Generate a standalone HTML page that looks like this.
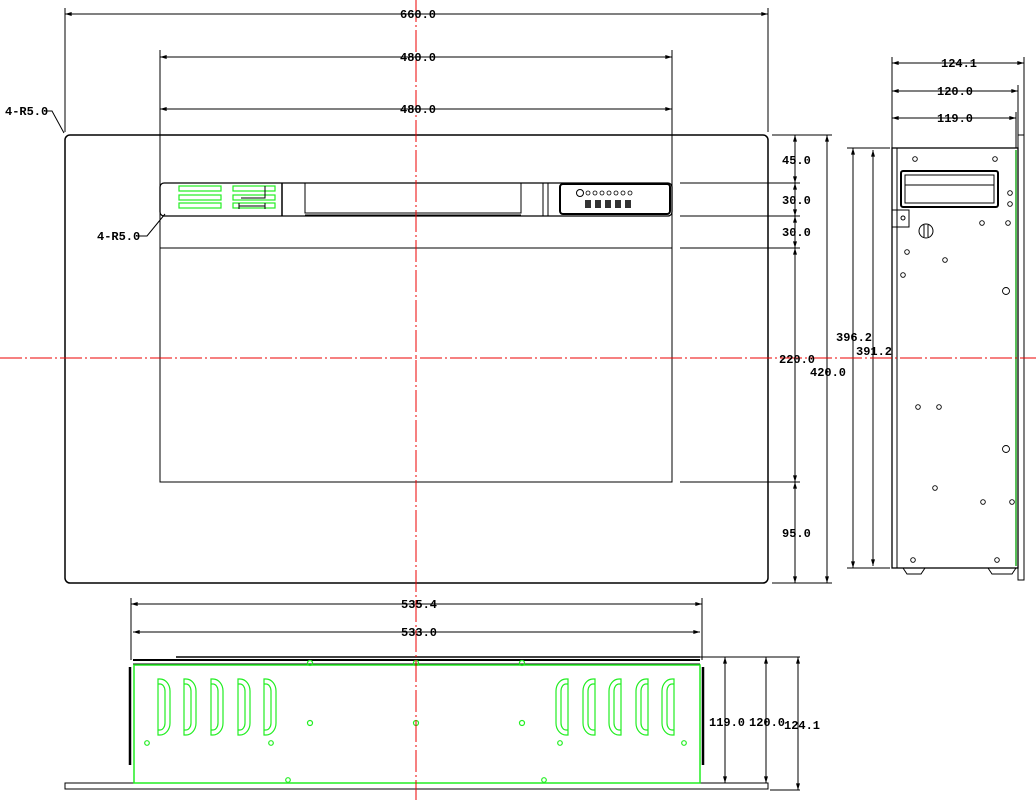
<!DOCTYPE html>
<html><head><meta charset="utf-8"><style>
html,body{margin:0;padding:0;background:#fff;width:1036px;height:800px;overflow:hidden}
svg{display:block}
text{font-family:"Liberation Mono","DejaVu Sans Mono",monospace;font-size:12px;font-weight:bold;fill:#000}
</style></head><body>
<svg width="1036" height="800" viewBox="0 0 1036 800" xmlns="http://www.w3.org/2000/svg">
<defs>
<marker id="a" viewBox="0 0 10 6" refX="10" refY="3" markerWidth="8" markerHeight="4" orient="auto-start-reverse"><path d="M0,0L10,3L0,6z" fill="#000"/></marker>
</defs>
<g stroke="#000" fill="none" stroke-width="1">
<rect x="65" y="135" width="703" height="448" rx="5" stroke-width="1.5"/>
<rect x="160" y="248" width="512" height="234" stroke="#000"/>
<rect x="160" y="183" width="512" height="33" rx="4" stroke-width="1.3"/>
<line x1="282" y1="183" x2="282" y2="216" stroke-width="1.5"/>
<rect x="305" y="183" width="216" height="30"/>
<line x1="305" y1="215" x2="521" y2="215"/>
<line x1="543" y1="183" x2="543" y2="216"/>
<line x1="548" y1="183" x2="548" y2="216"/>
<rect x="560" y="184" width="110" height="30" rx="3" stroke-width="2"/>
<circle cx="580" cy="193" r="3.5"/>
<g stroke-width="0.8"><circle cx="588" cy="193" r="2"/><circle cx="595" cy="193" r="2"/><circle cx="602" cy="193" r="2"/><circle cx="609" cy="193" r="2"/><circle cx="616" cy="193" r="2"/><circle cx="623" cy="193" r="2"/><circle cx="630" cy="193" r="2"/></g>
<g fill="#333" stroke="none"><rect x="585" y="200" width="6" height="8"/><rect x="595" y="200" width="6" height="8"/><rect x="605" y="200" width="6" height="8"/><rect x="615" y="200" width="6" height="8"/><rect x="625" y="200" width="6" height="8"/></g>
<g stroke="#2e2" stroke-width="1.2"><rect x="179" y="186" width="42" height="5"/><rect x="179" y="195" width="42" height="5"/><rect x="179" y="203" width="42" height="5"/><rect x="233" y="186" width="42" height="5"/><rect x="233" y="195" width="42" height="5"/><rect x="233" y="203" width="42" height="5"/></g>
<path d="M241,198h24v-12M239,206h26M239,203v6M265,203v6" stroke-width="1"/>
<line x1="65" y1="8" x2="65" y2="132"/><line x1="768" y1="8" x2="768" y2="132"/>
<line x1="65" y1="14" x2="768" y2="14" marker-start="url(#a)" marker-end="url(#a)"/>
<line x1="160" y1="50" x2="160" y2="248"/><line x1="672" y1="50" x2="672" y2="248"/>
<line x1="160" y1="57" x2="672" y2="57" marker-start="url(#a)" marker-end="url(#a)"/>
<line x1="160" y1="109" x2="672" y2="109" marker-start="url(#a)" marker-end="url(#a)"/>
<path d="M45,111h7l12,22"/>
<path d="M137,236h10l18,-22"/>
<g stroke="#000"><line x1="772" y1="135" x2="832" y2="135"/><line x1="680" y1="183" x2="800" y2="183"/><line x1="680" y1="216" x2="800" y2="216"/><line x1="680" y1="248" x2="800" y2="248"/><line x1="680" y1="482" x2="800" y2="482"/><line x1="772" y1="583" x2="832" y2="583"/></g>
<line x1="795" y1="135" x2="795" y2="183" marker-start="url(#a)" marker-end="url(#a)"/>
<line x1="795" y1="183" x2="795" y2="216" marker-start="url(#a)" marker-end="url(#a)"/>
<line x1="795" y1="216" x2="795" y2="248" marker-start="url(#a)" marker-end="url(#a)"/>
<line x1="795" y1="248" x2="795" y2="482" marker-start="url(#a)" marker-end="url(#a)"/>
<line x1="795" y1="482" x2="795" y2="583" marker-start="url(#a)" marker-end="url(#a)"/>
<line x1="827" y1="135" x2="827" y2="583" marker-start="url(#a)" marker-end="url(#a)"/>
<rect x="892" y="148" width="126" height="420" stroke-width="1.3"/>
<line x1="897" y1="148" x2="897" y2="568"/>
<rect x="1018" y="135" width="6" height="445"/>
<line x1="1016" y1="150" x2="1016" y2="566" stroke="#2a2" stroke-width="1.5"/>
<rect x="901" y="171" width="97" height="36" rx="2" stroke-width="2"/>
<rect x="905" y="175" width="89" height="28"/>
<line x1="905" y1="185" x2="994" y2="185"/>
<path d="M892,210h17v17h-17"/><circle cx="903" cy="218" r="2"/>
<rect x="919" y="224" width="14" height="14" rx="7"/><line x1="924" y1="225" x2="924" y2="237"/><line x1="928" y1="225" x2="928" y2="237"/>
<path d="M903,568l4,6h14l4,-6M988,568l4,6h20l4,-6"/>
<g stroke-width="0.9"><circle cx="915" cy="159" r="2.3"/><circle cx="995" cy="159" r="2.3"/><circle cx="1010" cy="193" r="2.3"/><circle cx="1010" cy="204" r="2.3"/><circle cx="982" cy="223" r="2.3"/><circle cx="1008" cy="223" r="2.3"/><circle cx="907" cy="252" r="2.3"/><circle cx="945" cy="260" r="2.3"/><circle cx="903" cy="275" r="2.3"/><circle cx="1006" cy="291" r="3.5"/><circle cx="918" cy="407" r="2.3"/><circle cx="939" cy="407" r="2.3"/><circle cx="1006" cy="449" r="3.5"/><circle cx="935" cy="488" r="2.3"/><circle cx="983" cy="502" r="2.3"/><circle cx="1012" cy="502" r="2.3"/><circle cx="913" cy="560" r="2.3"/><circle cx="997" cy="560" r="2.3"/></g>
<line x1="892" y1="57" x2="892" y2="148"/><line x1="1024" y1="57" x2="1024" y2="135"/><line x1="1018" y1="85" x2="1018" y2="135"/><line x1="1016" y1="112" x2="1016" y2="148"/>
<line x1="892" y1="63" x2="1024" y2="63" marker-start="url(#a)" marker-end="url(#a)"/>
<line x1="892" y1="91" x2="1018" y2="91" marker-start="url(#a)" marker-end="url(#a)"/>
<line x1="892" y1="118" x2="1016" y2="118" marker-start="url(#a)" marker-end="url(#a)"/>
<line x1="847" y1="148" x2="890" y2="148"/><line x1="847" y1="568" x2="890" y2="568"/>
<line x1="853" y1="148" x2="853" y2="568" marker-start="url(#a)" marker-end="url(#a)"/>
<line x1="873" y1="150" x2="873" y2="566" marker-start="url(#a)" marker-end="url(#a)"/>
<rect x="65" y="783" width="703" height="6"/>
<line x1="133" y1="660" x2="700" y2="660" stroke-width="2"/>
<line x1="133" y1="664" x2="700" y2="664"/>
<line x1="176" y1="657" x2="700" y2="657" stroke-width="1.5"/>
<rect x="134" y="665" width="566" height="118" stroke="#2e2" stroke-width="1.5"/>
<line x1="130" y1="667" x2="130" y2="765" stroke-width="2.5"/>
<line x1="703" y1="667" x2="703" y2="765" stroke-width="2.5"/>
<g stroke="#2e2" stroke-width="1.2">
<path d="M158,679h2a10,12 0 0 1 10,12v32a10,12 0 0 1 -10,12h-2z M158,684h2a5,7 0 0 1 5,7v32a5,7 0 0 1 -5,7h-2"/>
<path d="M184,679h2a10,12 0 0 1 10,12v32a10,12 0 0 1 -10,12h-2z M184,684h2a5,7 0 0 1 5,7v32a5,7 0 0 1 -5,7h-2"/>
<path d="M211,679h2a10,12 0 0 1 10,12v32a10,12 0 0 1 -10,12h-2z M211,684h2a5,7 0 0 1 5,7v32a5,7 0 0 1 -5,7h-2"/>
<path d="M238,679h2a10,12 0 0 1 10,12v32a10,12 0 0 1 -10,12h-2z M238,684h2a5,7 0 0 1 5,7v32a5,7 0 0 1 -5,7h-2"/>
<path d="M264,679h2a10,12 0 0 1 10,12v32a10,12 0 0 1 -10,12h-2z M264,684h2a5,7 0 0 1 5,7v32a5,7 0 0 1 -5,7h-2"/>
<path d="M568,679h-2a10,12 0 0 0 -10,12v32a10,12 0 0 0 10,12h2z M568,684h-2a5,7 0 0 0 -5,7v32a5,7 0 0 0 5,7h2"/>
<path d="M595,679h-2a10,12 0 0 0 -10,12v32a10,12 0 0 0 10,12h2z M595,684h-2a5,7 0 0 0 -5,7v32a5,7 0 0 0 5,7h2"/>
<path d="M621,679h-2a10,12 0 0 0 -10,12v32a10,12 0 0 0 10,12h2z M621,684h-2a5,7 0 0 0 -5,7v32a5,7 0 0 0 5,7h2"/>
<path d="M648,679h-2a10,12 0 0 0 -10,12v32a10,12 0 0 0 10,12h2z M648,684h-2a5,7 0 0 0 -5,7v32a5,7 0 0 0 5,7h2"/>
<path d="M674,679h-2a10,12 0 0 0 -10,12v32a10,12 0 0 0 10,12h2z M674,684h-2a5,7 0 0 0 -5,7v32a5,7 0 0 0 5,7h2"/>
<circle cx="310" cy="663" r="2.5"/><circle cx="416" cy="663" r="2.5"/><circle cx="522" cy="663" r="2.5"/>
<circle cx="310" cy="723" r="2.5"/><circle cx="416" cy="723" r="2.5"/><circle cx="522" cy="723" r="2.5"/>
<circle cx="147" cy="743" r="2.3"/><circle cx="271" cy="743" r="2.3"/><circle cx="560" cy="743" r="2.3"/><circle cx="684" cy="743" r="2.3"/>
<circle cx="288" cy="780" r="2.3"/><circle cx="544" cy="780" r="2.3"/>
</g>
<line x1="131" y1="598" x2="131" y2="660"/><line x1="702" y1="598" x2="702" y2="660"/>
<line x1="131" y1="604" x2="702" y2="604" marker-start="url(#a)" marker-end="url(#a)"/>
<line x1="133" y1="632" x2="700" y2="632" marker-start="url(#a)" marker-end="url(#a)"/>
<line x1="700" y1="657" x2="800" y2="657"/><line x1="770" y1="790" x2="800" y2="790"/>
<line x1="725" y1="657" x2="725" y2="783" marker-start="url(#a)" marker-end="url(#a)"/>
<line x1="766" y1="657" x2="766" y2="783" marker-start="url(#a)" marker-end="url(#a)"/>
<line x1="798" y1="657" x2="798" y2="790" marker-start="url(#a)" marker-end="url(#a)"/>
</g>
<g stroke="#e00" stroke-width="1" stroke-dasharray="22,3,2,3">
<line x1="416" y1="0" x2="416" y2="800"/>
<line x1="0" y1="358" x2="1036" y2="358"/>
</g>
<text x="400" y="18">660.0</text>
<text x="400" y="61">480.0</text>
<text x="400" y="113">480.0</text>
<text x="5" y="115">4-R5.0</text>
<text x="97" y="240">4-R5.0</text>
<text x="782" y="164">45.0</text>
<text x="782" y="204">30.0</text>
<text x="782" y="236">30.0</text>
<text x="779" y="363">220.0</text>
<text x="810" y="376">420.0</text>
<text x="782" y="537">95.0</text>
<text x="941" y="67">124.1</text>
<text x="937" y="95">120.0</text>
<text x="937" y="122">119.0</text>
<text x="836" y="341">396.2</text>
<text x="856" y="355">391.2</text>
<text x="401" y="608">535.4</text>
<text x="401" y="636">533.0</text>
<text x="709" y="726">119.0</text>
<text x="749" y="726">120.0</text>
<text x="784" y="729">124.1</text>
</svg>
</body></html>
